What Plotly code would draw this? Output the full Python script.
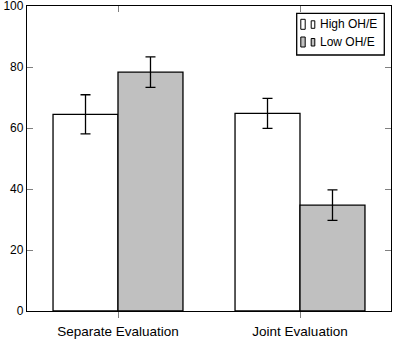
import plotly.graph_objects as go

categories = ["Separate Evaluation", "Joint Evaluation"]
high_vals = [64.5, 64.8]
high_err = [6.4, 4.9]
low_vals = [78.3, 34.7]
low_err = [5.0, 5.0]
series_names = ["High OH/E", "Low OH/E"]
series_colors = ["white", "#c0c0c0"]
y_ticks = [0, 20, 40, 60, 80, 100]

W, H = 393, 340
ML, MR, MT, MB = 27, 2, 6, 29
PW, PH = W - ML - MR, H - MT - MB


def px(xp):
    return (xp - ML) / PW


def py(yp):
    return (H - MB - yp) / PH


fig = go.Figure()
for name, vals, err, col in [(series_names[0], high_vals, high_err, series_colors[0]),
                             (series_names[1], low_vals, low_err, series_colors[1])]:
    fig.add_trace(go.Bar(
        x=categories, y=vals, name=name,
        marker=dict(color=col, line=dict(color="black", width=1.3)),
        error_y=dict(type="data", array=err, color="black", thickness=1.3, width=5),
    ))
# invisible trace for top mirrored ticks
fig.add_trace(go.Bar(x=categories, y=[None, None], xaxis="x2", showlegend=False, hoverinfo="skip"))

font = dict(family="Liberation Sans, Arial, sans-serif", size=12, color="black")
xfont = dict(family="Liberation Sans, Arial, sans-serif", size=13.5, color="black")

# manual legend (box, two-rectangle symbols, labels)
shapes = [dict(type="rect", xref="paper", yref="paper",
               x0=px(296.7), x1=px(384.3), y0=py(55), y1=py(13.3),
               line=dict(color="black", width=1.3), fillcolor="white", layer="above")]
annotations = []
row_centers = [24.3, 42.0]
for i, (name, col) in enumerate(zip(series_names, series_colors)):
    yc = row_centers[i]
    shapes.append(dict(type="rect", xref="paper", yref="paper",
                       x0=px(300.8), x1=px(305.2), y0=py(yc + 5), y1=py(yc - 5),
                       line=dict(color="black", width=1), fillcolor=col, layer="above"))
    shapes.append(dict(type="rect", xref="paper", yref="paper",
                       x0=px(311.2), x1=px(314.8), y0=py(yc + 4), y1=py(yc - 3.5),
                       line=dict(color="black", width=1), fillcolor=col, layer="above"))
    annotations.append(dict(text=name, xref="paper", yref="paper", x=px(317.5), y=py(yc),
                            xanchor="left", yanchor="middle", showarrow=False, font=font))

fig.update_layout(
    width=W, height=H,
    margin=dict(l=ML, r=MR, t=MT, b=MB, autoexpand=False),
    paper_bgcolor="white", plot_bgcolor="white",
    barmode="group", bargap=0.286, bargroupgap=0,
    font=font,
    showlegend=False,
    shapes=shapes,
    annotations=annotations,
    xaxis=dict(
        range=[-0.5, 1.5], showline=True, linecolor="black", linewidth=1.3,
        mirror=True, ticks="outside", ticklen=6, tickcolor="gray", tickwidth=1,
        showgrid=False, zeroline=False, tickfont=xfont, automargin=False,
        ticklabeloverflow="allow", ticklabelstandoff=2,
    ),
    xaxis2=dict(
        range=[-0.5, 1.5], overlaying="x", side="top", ticks="inside", ticklen=6,
        tickcolor="gray", tickwidth=1, showticklabels=False, showgrid=False,
        zeroline=False, showline=False, automargin=False,
    ),
    yaxis=dict(
        range=[0, 100], tickvals=y_ticks, showline=True, linecolor="black", linewidth=1.3,
        mirror="ticks", ticks="inside", ticklen=6, tickcolor="gray", tickwidth=1,
        showgrid=False, zeroline=False, tickfont=font, automargin=False,
        ticklabeloverflow="allow",
    ),
)

fig.write_html("out.html", config={"displayModeBar": False},
               post_script="document.body.style.margin='0px';")
